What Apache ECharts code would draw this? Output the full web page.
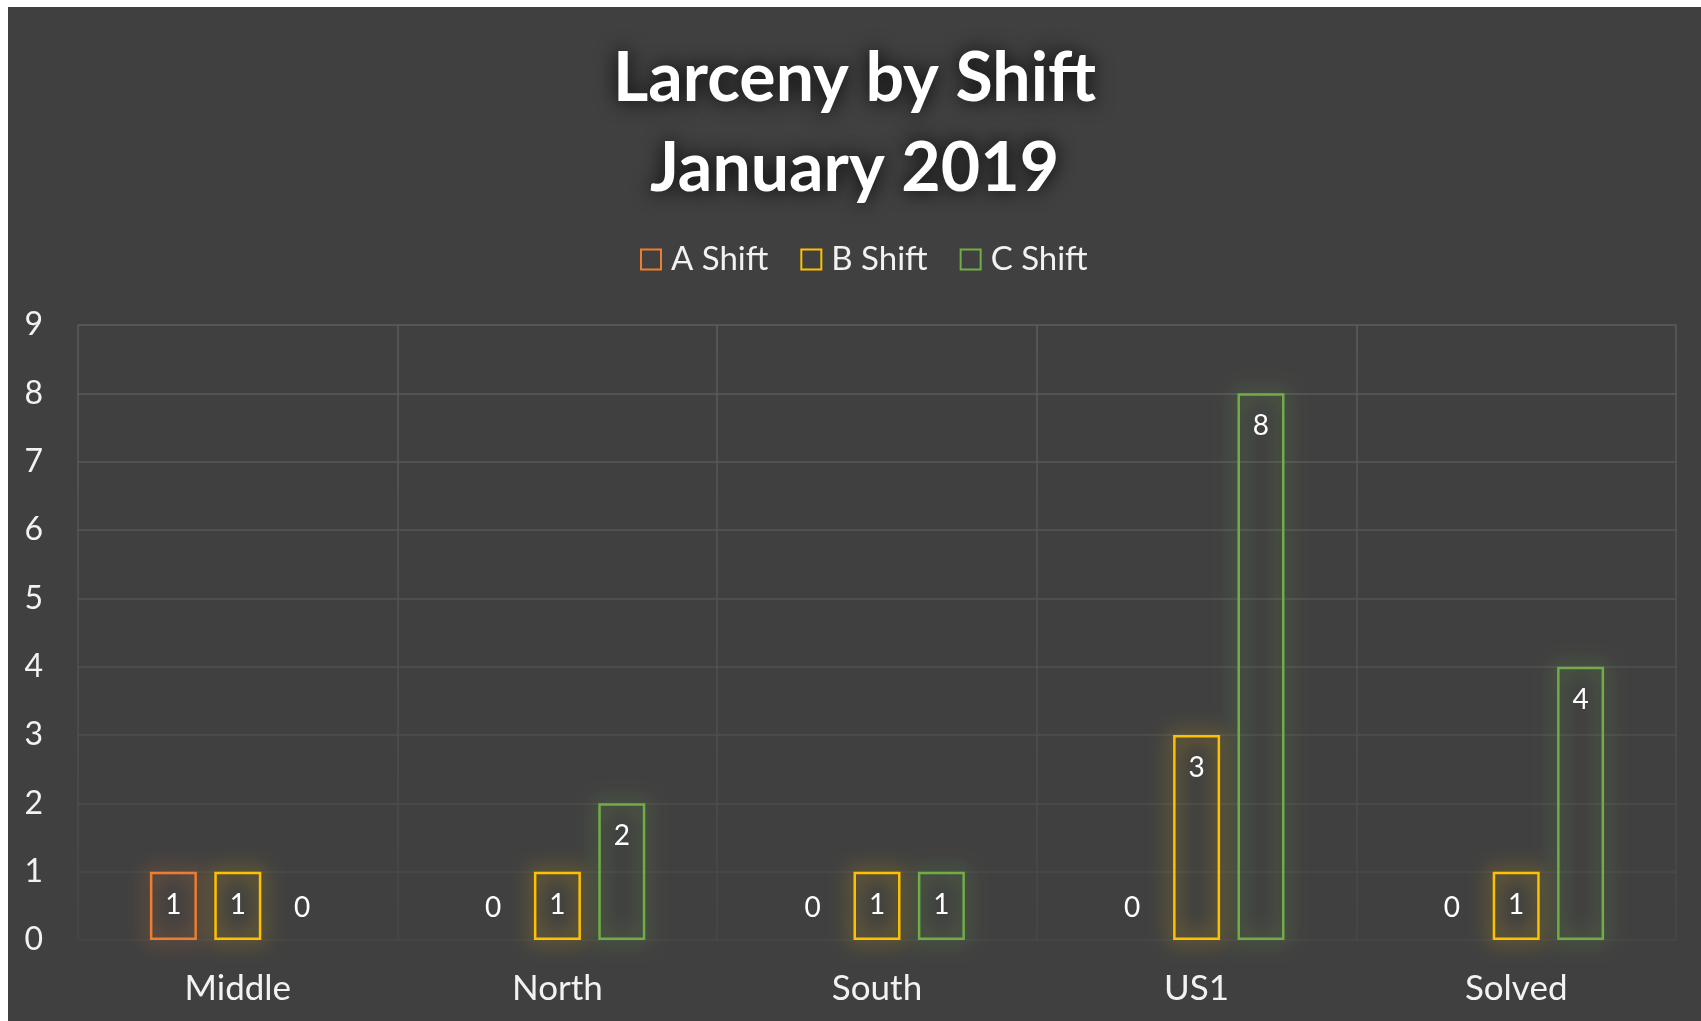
<!DOCTYPE html>
<html>
<head>
<meta charset="utf-8">
<script src="https://cdn.jsdelivr.net/npm/echarts@6/dist/echarts.min.js"></script>
<style>
  body { margin: 0; background: #ffffff; }
  #chart { position: absolute; left: 8px; top: 7px; width: 1693px; height: 1014px; }
</style>
</head>
<body>
<div id="chart"></div>
<script>
var categories = ['Middle', 'North', 'South', 'US1', 'Solved'];
var aShift = [1, 0, 0, 0, 0];
var bShift = [1, 1, 1, 3, 1];
var cShift = [0, 2, 1, 8, 4];
var shiftNames = ['A Shift', 'B Shift', 'C Shift'];
var shiftColors = ['#ED7D31', '#FFC000', '#70AD47'];

var FONT = 'Lato, "Open Sans", sans-serif';

// zero bars get no outline and the label sits above the axis
function toItems(values) {
    return values.map(function (v) {
        if (v === 0) {
            return {
                value: v,
                itemStyle: { borderWidth: 0, shadowBlur: 0 },
                label: { position: 'top', distance: 18 }
            };
        }
        return v;
    });
}

function makeSeries(name, values, color) {
    return {
        name: name,
        type: 'bar',
        barWidth: 47,
        barGap: '37%',
        data: toItems(values),
        itemStyle: {
            color: 'rgba(0,0,0,0)',
            borderColor: color,
            borderWidth: 2.5,
            shadowColor: color,
            shadowBlur: 20
        },
        label: {
            show: true,
            position: 'insideTop',
            distance: 19,
            color: '#ffffff',
            fontFamily: FONT,
            fontSize: 28
        }
    };
}

// grid lines fade towards the bottom of the plot
var gridColor = new echarts.graphic.LinearGradient(0, 318, 0, 933, [
    { offset: 0, color: '#5c5c5c' },
    { offset: 1, color: '#474747' }
], true);

var chart = echarts.init(document.getElementById('chart'));
var option = {
    backgroundColor: '#404040',
    animation: false,
    title: {
        text: 'Larceny by Shift\nJanuary 2019',
        left: 'center',
        top: 22,
        textStyle: {
            color: '#ffffff',
            fontFamily: FONT,
            fontWeight: 'bold',
            fontSize: 68,
            lineHeight: 90,
            textShadowColor: '#000000',
            textShadowBlur: 20
        }
    },
    legend: {
        top: 231,
        left: 627,
        itemWidth: 20,
        itemHeight: 20,
        itemGap: 32,
        icon: 'rect',
        data: shiftNames,
        textStyle: {
            color: '#f2f2f2',
            fontFamily: FONT,
            fontSize: 33,
            padding: [0, 0, 0, 5]
        }
    },
    grid: {
        left: 70,
        right: 25,
        top: 318,
        bottom: 81
    },
    xAxis: {
        type: 'category',
        data: categories,
        axisLine: { show: false },
        axisTick: { show: false },
        splitLine: {
            show: true,
            interval: 0,
            lineStyle: { color: gridColor, width: 1.5 }
        },
        axisLabel: {
            color: '#f2f2f2',
            fontFamily: FONT,
            fontSize: 35,
            margin: 31
        }
    },
    yAxis: {
        type: 'value',
        min: 0,
        max: 9,
        interval: 1,
        axisLine: { show: false },
        axisTick: { show: false },
        splitLine: {
            lineStyle: { color: gridColor, width: 1.5 }
        },
        axisLabel: {
            color: '#f2f2f2',
            fontFamily: FONT,
            fontSize: 32,
            margin: 35
        }
    },
    series: [
        makeSeries(shiftNames[0], aShift, shiftColors[0]),
        makeSeries(shiftNames[1], bShift, shiftColors[1]),
        makeSeries(shiftNames[2], cShift, shiftColors[2])
    ]
};
chart.setOption(option);
</script>
</body>
</html>
